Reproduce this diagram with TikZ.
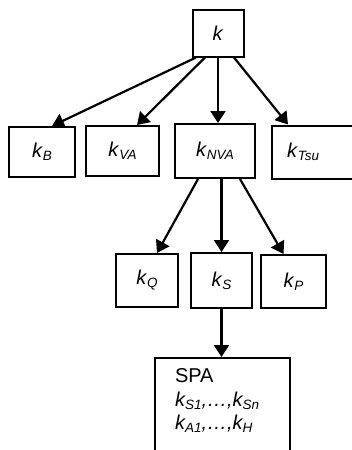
\documentclass[tikz,border=0pt]{standalone}
\usepackage{fontspec}
\setmainfont{Liberation Sans}
\usetikzlibrary{arrows.meta}
\newcommand{\ksub}[1]{\textit{k}\raisebox{-3pt}{\fontsize{13.5}{13.5}\selectfont\textit{#1}}}
\tikzstyle{box} = [rectangle, draw=black, line width=2pt, inner sep=0pt,
font=\fontsize{20}{23.5}\selectfont]
\tikzstyle{arrow} = [line width=2.2pt, -{Triangle[length=12pt,width=15pt]}]

\begin{document}
\begin{tikzpicture}[x=1pt,y=-1pt]
        \useasboundingbox (0,0) rectangle (352,450);
        \clip (0,0) rectangle (352,450);

        \node (k) [box, minimum width=51, minimum height=47] at (218,33) {\textit{k}};

        \node (kB) [box, minimum width=66, minimum height=50] at (42,152) {\ksub{B}};
        \node (kVA) [box, minimum width=73, minimum height=50] at (122.5,151) {\ksub{VA}};
        \node (kNVA) [box, minimum width=80, minimum height=54] at (215,151) {\ksub{NVA}};
        % the right box runs past the edge of the picture
        \node (kTsu) [box, text width=60, inner xsep=15, minimum height=53, align=left] at (317,152) {\ksub{Tsu}};

        \node (kQ) [box, minimum width=62, minimum height=53] at (147,280.5) {\ksub{Q}};
        \node (kS) [box, minimum width=61, minimum height=55] at (221.5,280.5) {\ksub{S}};
        \node (kP) [box, minimum width=65, minimum height=53] at (293.5,281.5) {\ksub{P}};

        \node (SPA) [box, anchor=north, text width=95, inner xsep=20, inner ysep=11,
        text depth=70, align=left] at (222.5,357)
        {SPA\\ \itshape\ksub{S1},\ldots,\ksub{Sn}\\ \itshape\ksub{A1},\ldots,\ksub{H}};

        \draw [arrow] ([xshift=-22]k.south) -- ([xshift=10]kB.north);
        \draw [arrow] ([xshift=-13]k.south) -- ([xshift=14.5]kVA.north);
        \draw [arrow] (k.south) -- (k.south |- kNVA.north);
        \draw [arrow] ([xshift=16]k.south) -- ([xshift=-29]kTsu.north);

        \draw [arrow] ([xshift=-17]kNVA.south) -- ([xshift=10]kQ.north);
        \draw [arrow] (kS.north |- kNVA.south) -- (kS.north);
        \draw [arrow] ([xshift=25]kNVA.south) -- ([xshift=-10]kP.north);

        \draw [arrow] (kS.south) -- (kS.south |- SPA.north);

    \end{tikzpicture}
\end{document}
